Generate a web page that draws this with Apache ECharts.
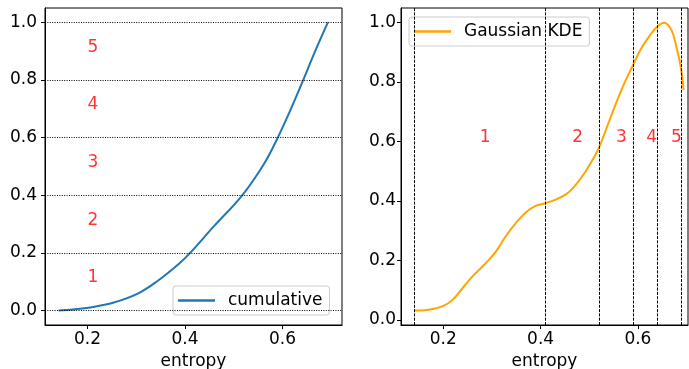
<!DOCTYPE html>
<html>
<head>
<meta charset="utf-8">
<script src="https://cdn.jsdelivr.net/npm/echarts@6/dist/echarts.min.js"></script>
<style>
  html, body { margin: 0; padding: 0; background: #fff; }
  #chart { width: 689px; height: 369px; }
</style>
</head>
<body>
<div id="chart"></div>
<script>
// left panel: cumulative curve
var cumX = [0.141, 0.17, 0.206, 0.254, 0.302, 0.343, 0.39, 0.411, 0.459, 0.517, 0.561, 0.588, 0.616, 0.640, 0.667, 0.693];
var cumY = [0, 0.004, 0.011, 0.028, 0.058, 0.102, 0.166, 0.201, 0.292, 0.399, 0.506, 0.592, 0.695, 0.79, 0.900, 1.0];
var levels = [0, 0.2, 0.4, 0.6, 0.8, 1.0];
var leftLabelX = [0.2, 0.2, 0.2, 0.2, 0.2];
var leftLabelY = [0.1, 0.3, 0.5, 0.7, 0.9];

// right panel: gaussian kde
var kdeX = [0.141, 0.170, 0.198, 0.219, 0.239, 0.260, 0.287, 0.308, 0.328, 0.349, 0.370, 0.390, 0.409, 0.432, 0.452, 0.466, 0.490, 0.511, 0.521, 0.538, 0.555, 0.572, 0.590, 0.607, 0.624, 0.641, 0.654, 0.669, 0.679, 0.688, 0.694];
var kdeY = [0.031, 0.034, 0.045, 0.067, 0.106, 0.146, 0.190, 0.229, 0.280, 0.325, 0.362, 0.383, 0.392, 0.405, 0.422, 0.442, 0.493, 0.550, 0.582, 0.655, 0.728, 0.795, 0.857, 0.913, 0.955, 0.988, 0.999, 0.974, 0.918, 0.851, 0.773];
var quantiles = [0.141, 0.41, 0.52, 0.59, 0.643, 0.694];
var rightLabelX = [0.275, 0.465, 0.555, 0.617, 0.668];
var rightLabelY = [0.6, 0.6, 0.6, 0.6, 0.6];

var groupNames = ['1', '2', '3', '4', '5'];
var yTicks = [0, 0.2, 0.4, 0.6, 0.8, 1.0];
var xTicks = [0.2, 0.4, 0.6];

var FONT = 'DejaVu Sans';

function pairs(xs, ys) {
  return xs.map(function (x, i) { return [x, ys[i]]; });
}

function textPoints(xs, ys) {
  return xs.map(function (x, i) { return { value: [x, ys[i]], name: groupNames[i] }; });
}

function xAxisFor(idx, max) {
  return {
    type: 'value', gridIndex: idx, min: 0.113, max: max,
    name: 'entropy', nameLocation: 'middle', nameGap: 18,
    nameTextStyle: { color: '#000', fontSize: 17, fontFamily: FONT },
    axisLine: { show: true, onZero: false, lineStyle: { color: '#000', width: 1 } },
    axisTick: { show: true, length: 4, customValues: xTicks, lineStyle: { color: '#000' } },
    axisLabel: { customValues: xTicks, margin: 6, color: '#000', fontSize: 17, fontFamily: FONT,
      formatter: function (v) { return v.toFixed(1); } },
    splitLine: { show: false }
  };
}

function yAxisFor(idx, min, max, margin) {
  return {
    type: 'value', gridIndex: idx, min: min, max: max,
    axisLine: { show: true, onZero: false, lineStyle: { color: '#000', width: 1 } },
    axisTick: { show: true, length: 4, customValues: yTicks, lineStyle: { color: '#000' } },
    axisLabel: { customValues: yTicks, margin: margin, color: '#000', fontSize: 17, fontFamily: FONT,
      formatter: function (v) { return v.toFixed(1); } },
    splitLine: { show: false }
  };
}

function labelSeries(idx, xs, ys) {
  return {
    type: 'scatter', xAxisIndex: idx, yAxisIndex: idx,
    symbolSize: 0, silent: true,
    data: textPoints(xs, ys),
    label: {
      show: true, position: [0, 0], align: 'left', verticalAlign: 'middle',
      offset: [0, -4], formatter: '{b}',
      color: 'red', fontSize: 17, fontFamily: FONT
    }
  };
}

function legendFor(name, left, top) {
  return {
    data: [{ name: name, icon: 'rect' }], left: left, top: top,
    padding: [6, 7, 6, 5], itemWidth: 37, itemHeight: 2.5, itemGap: 0,
    borderColor: '#ccc', borderWidth: 1, borderRadius: 3, backgroundColor: 'rgba(255,255,255,0.8)',
    textStyle: { color: '#000', fontSize: 17, fontFamily: FONT, padding: [0, 0, 0, 8] }
  };
}

var chart = echarts.init(document.getElementById('chart'), null, { renderer: 'canvas' });
chart.setOption({
  animation: false,
  backgroundColor: '#fff',
  textStyle: { fontFamily: FONT },
  grid: [
    { left: 45, top: 8, width: 297, height: 317, show: true, borderColor: '#000', borderWidth: 1,
      outerBoundsMode: 'none', containLabel: false },
    { left: 401, top: 8, width: 287, height: 317, show: true, borderColor: '#000', borderWidth: 1,
      outerBoundsMode: 'none', containLabel: false }
  ],
  legend: [legendFor('cumulative', 173, 286), legendFor('Gaussian KDE', 409, 17)],
  xAxis: [xAxisFor(0, 0.722), xAxisFor(1, 0.703)],
  yAxis: [yAxisFor(0, -0.05, 1.05, 8), yAxisFor(1, -0.0175, 1.0485, 5)],
  series: [
    {
      name: 'cumulative', type: 'line', xAxisIndex: 0, yAxisIndex: 0,
      data: pairs(cumX, cumY), smooth: 0.4, symbol: 'none',
      lineStyle: { color: '#1f77b4', width: 2 }, itemStyle: { color: '#1f77b4' },
      markLine: {
        silent: true, symbol: 'none', label: { show: false },
        lineStyle: { color: '#000', width: 1, type: [1, 1.4] },
        data: levels.map(function (v) { return { yAxis: v }; })
      }
    },
    {
      name: 'Gaussian KDE', type: 'line', xAxisIndex: 1, yAxisIndex: 1,
      data: pairs(kdeX, kdeY), smooth: 0.4, symbol: 'none',
      lineStyle: { color: '#FFA500', width: 2 }, itemStyle: { color: '#FFA500' },
      markLine: {
        silent: true, symbol: 'none', label: { show: false },
        lineStyle: { color: '#000', width: 1, type: [3, 1.3] },
        data: quantiles.map(function (v) { return { xAxis: v }; })
      }
    },
    labelSeries(0, leftLabelX, leftLabelY),
    labelSeries(1, rightLabelX, rightLabelY)
  ]
});
</script>
</body>
</html>
